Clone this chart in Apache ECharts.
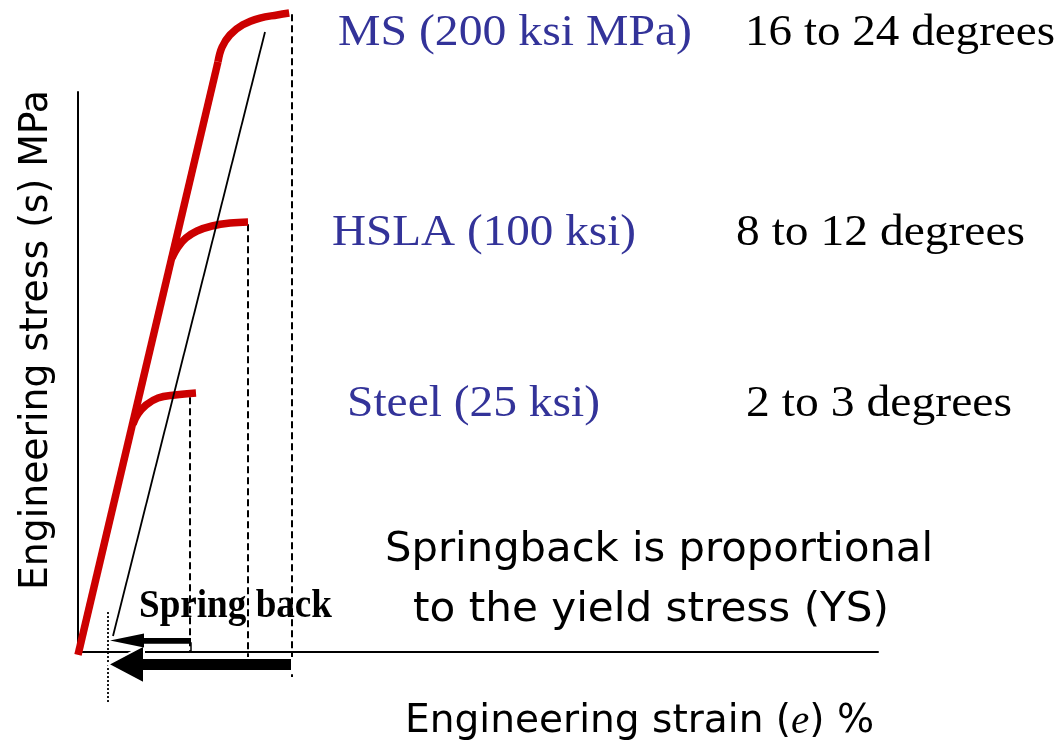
<!DOCTYPE html>
<html>
<head>
<meta charset="utf-8">
<script src="https://cdn.jsdelivr.net/npm/echarts@6/dist/echarts.min.js"></script>
<style>
html,body{margin:0;padding:0;background:#fff;}
#chart{width:1064px;height:742px;}
</style>
</head>
<body>
<div id="chart"></div>
<script>
// ---- data (schematic units: strain on x, stress on y) ----
const elasticStrain = [0, 17.5];
const elasticStress = [-0.5, 105.4];
const msStrain = [17.5, 18.0, 19.0, 20.6, 22.75, 24.9, 26.4];
const msStress = [105.4, 108.0, 110.2, 112.0, 113.2, 113.75, 114.1];
const hslaStrain = [11.75, 12.5, 13.5, 14.875, 16.75, 19.0, 21.25];
const hslaStress = [70.36, 72.32, 73.93, 75.18, 76.07, 76.61, 76.79];
const steelStrain = [6.875, 7.5, 8.5, 10.0, 12.125, 14.75];
const steelStress = [40.71, 42.5, 44.1, 45.36, 45.89, 46.25];
const unloadStrain = [23.375, 4.375];
const unloadStress = [110.7, 2.86];
const dropStrain = [14.0, 21.25, 26.75];
const dropTop = [45.5, 76.4, 113.9];
const dropBottom = [0.0, -1.43, -4.46];
const markStrain = [3.75, 3.75];
const markStress = [7.14, -9.29];
const springFrom = [26.75, 14.125];
const springTo = [3.75, 4.0];
const springLevel = [-2.23, 2.05];
const materials = ['MS (200 ksi MPa)', 'HSLA (100 ksi)', 'Steel (25 ksi)'];
const angles = ['16 to 24 degrees', '8 to 12 degrees', '2 to 3 degrees'];

const pairs = (xs, ys) => xs.map((x, i) => [x, ys[i]]);

const RED = '#cc0000';
const BLUE = '#333399';

const arrowStyle = [
  {half: 6.5, headLen: 36, headHalf: 19, outline: '#fff', outlineWidth: 2},
  {half: 2.5, headLen: 34, headHalf: 7, outline: null, outlineWidth: 0}
];

const series = [
  {type: 'line', data: pairs(elasticStrain, elasticStress), symbol: 'none', clip: false,
   lineStyle: {color: RED, width: 7.5}, z: 4},
  {type: 'line', data: pairs(msStrain, msStress), symbol: 'none', smooth: 0.4, clip: false,
   lineStyle: {color: RED, width: 7.5}, z: 4},
  {type: 'line', data: pairs(hslaStrain, hslaStress), symbol: 'none', smooth: 0.4, clip: false,
   lineStyle: {color: RED, width: 7.5}, z: 4},
  {type: 'line', data: pairs(steelStrain, steelStress), symbol: 'none', smooth: 0.4, clip: false,
   lineStyle: {color: RED, width: 7.5}, z: 4},
  {type: 'line', data: pairs(unloadStrain, unloadStress), symbol: 'none', clip: false,
   lineStyle: {color: '#000', width: 1.8}, z: 5},
  {type: 'line', data: pairs(markStrain, markStress), symbol: 'none', clip: false,
   lineStyle: {color: '#000', width: 1.8, type: [2, 2]}, z: 3}
];
dropStrain.forEach((x, i) => {
  series.push({type: 'line', data: [[x, dropTop[i]], [x, dropBottom[i]]], symbol: 'none', clip: false,
    lineStyle: {color: '#000', width: 2, type: [7, 4]}, z: 3});
});
series.push({
  type: 'custom', clip: false, z: 6,
  data: springFrom.map((f, i) => [f, springTo[i], springLevel[i]]),
  encode: {x: [0, 1], y: 2},
  renderItem: function (params, api) {
    const i = params.dataIndex;
    const st = arrowStyle[i];
    const s = api.coord([api.value(0), api.value(2)]);
    const t = api.coord([api.value(1), api.value(2)]);
    const hb = t[0] + st.headLen;
    const pts = [[t[0], t[1]], [hb, t[1] - st.headHalf], [hb, t[1] - st.half], [s[0], s[1] - st.half],
      [s[0], s[1] + st.half], [hb, t[1] + st.half], [hb, t[1] + st.headHalf]];
    const children = [{type: 'polygon', shape: {points: pts},
      style: {fill: '#000', stroke: st.outline, lineWidth: st.outlineWidth}}];
    if (i === 1) {
      const base = api.coord([api.value(0), 0]);
      children.push({type: 'polyline', shape: {points: [[hb, s[1] + st.half], [s[0], s[1] + st.half], [s[0], base[1]]]},
        style: {stroke: '#000', lineWidth: 1.5, fill: null}});
    }
    return {type: 'group', children: children};
  }
});

// text fitting helper (match reference text widths)
const ctx = document.createElement('canvas').getContext('2d');
function fit(text, font, width) {
  ctx.font = font;
  return width / ctx.measureText(text).width;
}
const SERIF = '45px "Liberation Serif", "Times New Roman", serif';
const SANS = '41px "DejaVu Sans", Verdana, sans-serif';
function label(text, x, y, width, font, fill, extra) {
  return Object.assign({type: 'text', x: x, y: y, scaleX: fit(text, font, width), silent: true,
    style: {text: text, font: font, fill: fill, textAlign: 'left', textVerticalAlign: 'middle'}}, extra || {});
}
const matX = [338, 332, 347], matW = [354, 304, 253];
const angX = [745, 736, 746], angW = [310, 289, 266];
const rowY = [33, 233, 404];
const graphics = [];
materials.forEach((m, i) => graphics.push(label(m, matX[i], rowY[i], matW[i], SERIF, BLUE)));
angles.forEach((a, i) => graphics.push(label(a, angX[i], rowY[i], angW[i], SERIF, '#000')));
graphics.push(label('Springback is proportional', 385, 550, 548, SANS, '#000'));
graphics.push(label('to the yield stress (YS)', 413, 610, 476, SANS, '#000'));
const BOLD = 'bold 40px "Liberation Serif", "Times New Roman", serif';
graphics.push(label('Spring back', 139, 607, 193, BOLD, '#000'));
const AX = '39px "DejaVu Sans", Verdana, sans-serif';
const xName = 'Engineering strain (e) %';
graphics.push({type: 'text', x: 405, y: 722, scaleX: fit(xName, AX, 475), silent: true,
  style: {text: 'Engineering strain ({it|e}) %', font: AX, fill: '#000', textAlign: 'left', textVerticalAlign: 'middle',
    rich: {it: {fontFamily: '"Liberation Serif", serif', fontStyle: 'italic', fontSize: 41}}}});
const yName = 'Engineering stress (s) MPa';
graphics.push({type: 'text', x: 37, y: 340, rotation: Math.PI / 2, scaleX: fit(yName, AX, 500), silent: true,
  style: {text: yName, font: AX, fill: '#000', textAlign: 'center', textVerticalAlign: 'middle'}});

const chart = echarts.init(document.getElementById('chart'), null, {renderer: 'canvas'});
chart.setOption({
  animation: false,
  backgroundColor: '#fff',
  grid: {left: 78, right: 186, top: 92, bottom: 90, containLabel: false},
  xAxis: {type: 'value', min: 0, max: 100,
    axisLine: {show: true, onZero: false, lineStyle: {color: '#000', width: 2}},
    axisTick: {show: false}, axisLabel: {show: false}, splitLine: {show: false}},
  yAxis: {type: 'value', min: 0, max: 100,
    axisLine: {show: true, onZero: false, lineStyle: {color: '#000', width: 2}},
    axisTick: {show: false}, axisLabel: {show: false}, splitLine: {show: false}},
  series: series,
  graphic: {elements: graphics}
});
</script>
</body>
</html>
